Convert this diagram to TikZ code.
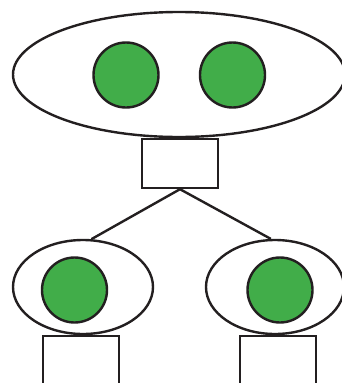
\documentclass[tikz,border=0pt]{standalone}
\usepackage{xcolor}
\usepackage{tikz}
\usetikzlibrary{positioning,shapes.geometric}
\definecolor{inkblack}{HTML}{231F20}
\definecolor{cellgreen}{HTML}{41AD49}

\begin{document}
\begin{tikzpicture}[
    x=1pt, y=-1pt,
    cell/.style={ellipse, draw=inkblack, line width=2.4pt, fill=white, inner sep=0pt},
    nucleus/.style={circle, draw=inkblack, line width=2.4pt, fill=cellgreen,
                    minimum size=65pt, inner sep=0pt},
    box/.style={rectangle, draw=inkblack, line width=2.4pt, fill=white,
                minimum width=76pt, minimum height=49pt, inner sep=0pt},
    link/.style={draw=inkblack, line width=2.4pt}
]
\useasboundingbox (0,0) rectangle (342,383);

% Parent cell
\node[cell, minimum width=332pt, minimum height=125pt] (parent) at (179,74.5) {};
\node[nucleus] (pnucA) at (126,75) {};
\node[nucleus] (pnucB) at (232.5,75) {};
\node[box] (pbox) at (180,163.5) {};

% Daughter cells
\node[cell, minimum width=140pt, minimum height=94pt] (left) at (83,287) {};
\node[nucleus] (lnuc) at (74.5,290) {};
\node[box] (lbox) at (81,360.5) {};

\node[cell, minimum width=138pt, minimum height=94pt] (right) at (275,287) {};
\node[nucleus] (rnuc) at (280,290) {};
\node[box] (rbox) at (278,360.5) {};

% Links
\draw[link] (pbox.south) -- (left.80);
\draw[link] (pbox.south) -- (right.95);

\end{tikzpicture}
\end{document}
